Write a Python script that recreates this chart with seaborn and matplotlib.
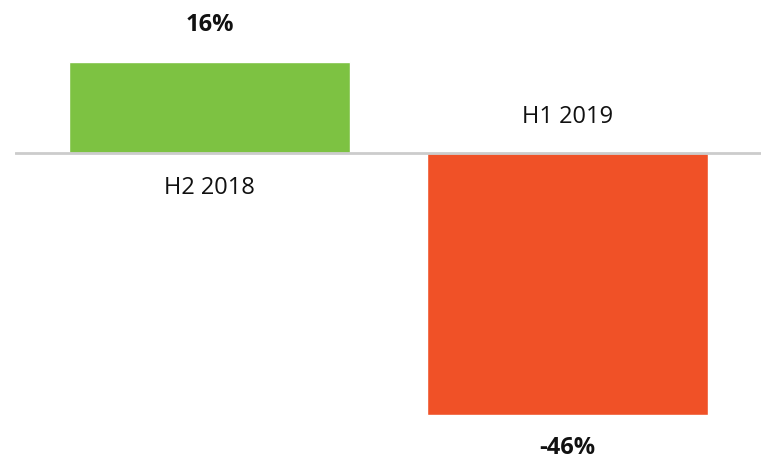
import matplotlib
matplotlib.use("Agg")
import matplotlib.pyplot as plt
import seaborn as sns
import pandas as pd

categories = ["H2 2018", "H1 2019"]
values = [16, -46]
value_labels = ["16%", "-46%"]
colors = ["#7DC242", "#F05127"]

sns.set_theme(style="white")
plt.rcParams['font.family'] = ['Open Sans', 'DejaVu Sans']

df = pd.DataFrame({"category": categories, "value": values})

fig = plt.figure(figsize=(7.61, 4.61), dpi=100)
ax = fig.add_axes([15/761, 0, 746/761, 1])
sns.barplot(data=df, x="category", y="value", hue="category", palette=colors,
            width=0.785, saturation=1, legend=False, ax=ax)

ax.set_xlim(-0.543, 1.5405)
ax.set_ylim(-54.1, 26.9)
ax.axhline(0, color="#cccccc", lw=2, zorder=3)
for s in ax.spines.values():
    s.set_visible(False)
ax.set_xticks([])
ax.set_yticks([])
ax.set_xlabel("")
ax.set_ylabel("")

fs = 17
for i, (v, lab, cat) in enumerate(zip(values, value_labels, categories)):
    if v >= 0:
        ax.annotate(lab, (i, v), xytext=(0, 37), textcoords="offset pixels",
                    ha="center", va="center", fontsize=fs, fontweight="bold", color="#111111")
        ax.annotate(cat, (i, 0), xytext=(0, -35), textcoords="offset pixels",
                    ha="center", va="center", fontsize=fs, color="#111111")
    else:
        ax.annotate(lab, (i, v), xytext=(0, -21), textcoords="offset pixels",
                    ha="center", va="top", fontsize=fs, fontweight="bold", color="#111111")
        ax.annotate(cat, (i, 0), xytext=(0, 36), textcoords="offset pixels",
                    ha="center", va="center", fontsize=fs, color="#111111")

fig.savefig("out.png", dpi=100)
